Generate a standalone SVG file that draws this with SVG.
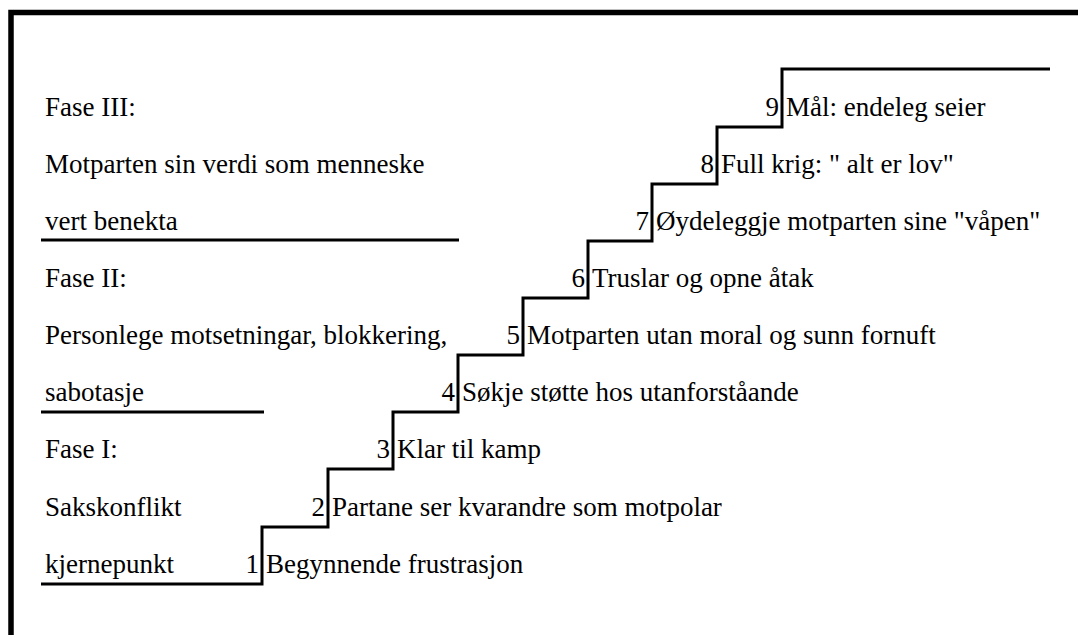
<svg xmlns="http://www.w3.org/2000/svg" width="1078" height="635" viewBox="0 0 1078 635">
<style>
text{font-family:"Liberation Serif","Times New Roman",serif;font-size:27px;fill:#000}
.num{text-anchor:end}
.ln{stroke:#000;stroke-width:3;fill:none}
.frame{stroke:#000;stroke-width:5.5;fill:none}
</style>
<rect width="1078" height="635" fill="#fff"/>
<path class="frame" d="M11,635 V12.5 H1078"/>
<g id="connectors">
<path class="ln" d="M41,584 H262 V527 H328 V469 H393 V412 H458 V355 H523 V298 H588 V241 H652 V184 H717 V127 H782 V69 H1050"/>
<line class="ln" x1="41" y1="240" x2="459" y2="240"/>
<line class="ln" x1="41" y1="412" x2="264" y2="412"/>
</g>
<g id="fase3">
<text x="45" y="116">Fase III:</text>
<text x="45" y="173">Motparten sin verdi som menneske</text>
<text x="45" y="230">vert benekta</text>
</g>
<g id="fase2">
<text x="45" y="287">Fase II:</text>
<text x="45" y="344">Personlege motsetningar, blokkering,</text>
<text x="45" y="401">sabotasje</text>
</g>
<g id="fase1">
<text x="45" y="458">Fase I:</text>
<text x="45" y="516">Sakskonflikt</text>
<text x="45" y="573">kjernepunkt</text>
</g>
<g id="step1"><text class="num" x="259" y="573">1</text><text x="266" y="573">Begynnende frustrasjon</text></g>
<g id="step2"><text class="num" x="325" y="516">2</text><text x="332" y="516">Partane ser kvarandre som motpolar</text></g>
<g id="step3"><text class="num" x="390" y="458">3</text><text x="397" y="458">Klar til kamp</text></g>
<g id="step4"><text class="num" x="455" y="401">4</text><text x="462" y="401">Søkje støtte hos utanforståande</text></g>
<g id="step5"><text class="num" x="520" y="344">5</text><text x="527" y="344">Motparten utan moral og sunn fornuft</text></g>
<g id="step6"><text class="num" x="585" y="287">6</text><text x="592" y="287">Truslar og opne åtak</text></g>
<g id="step7"><text class="num" x="649" y="230">7</text><text x="656" y="230">Øydeleggje motparten sine "våpen"</text></g>
<g id="step8"><text class="num" x="714" y="173">8</text><text x="721" y="173">Full krig: " alt er lov"</text></g>
<g id="step9"><text class="num" x="779" y="116">9</text><text x="786" y="116">Mål: endeleg seier</text></g>
</svg>
